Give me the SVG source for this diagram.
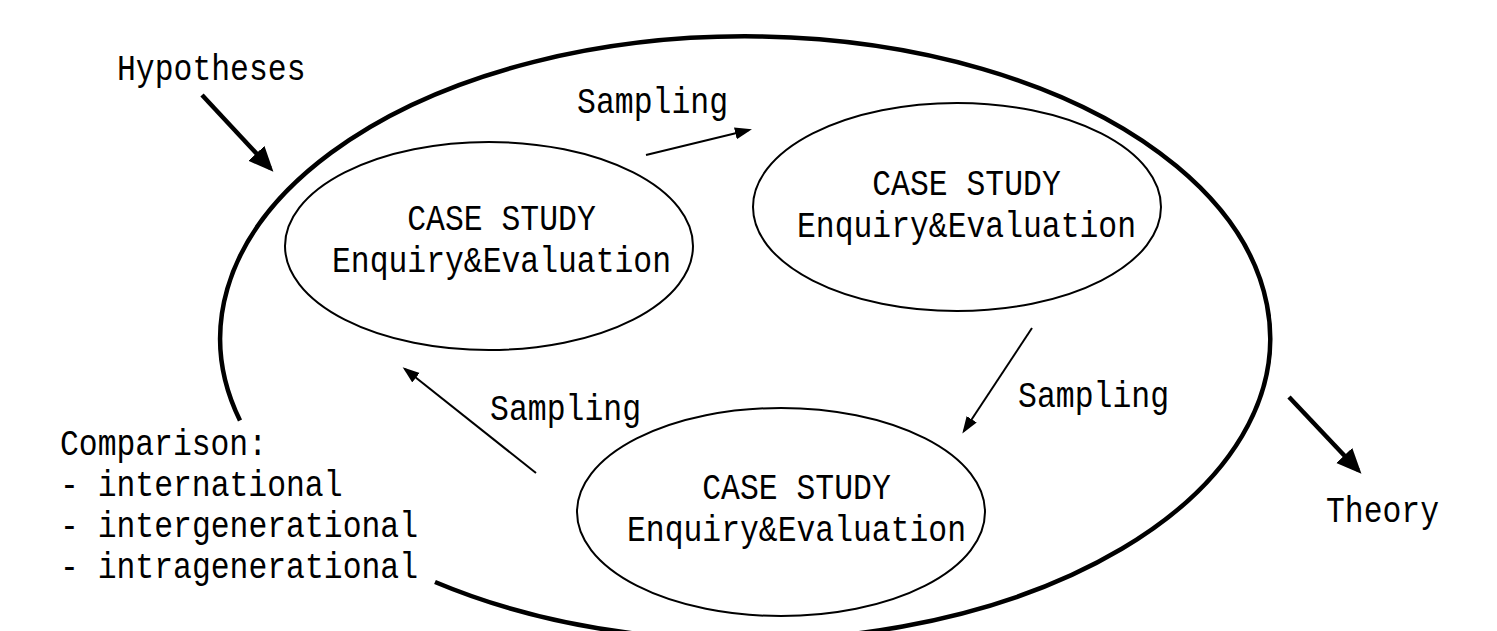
<svg xmlns="http://www.w3.org/2000/svg" width="1497" height="631" viewBox="0 0 1497 631">
<style>
text{font-family:"Liberation Mono","DejaVu Sans Mono",monospace;font-size:36px;fill:#000}
.c{text-anchor:middle}
.node{fill:none;stroke:#000;stroke-width:2}
.big{fill:none;stroke:#000;stroke-width:4.5}
.thin{stroke:#000;stroke-width:2;fill:none;marker-end:url(#ah)}
.thick{stroke:#000;stroke-width:4.5;fill:none;marker-end:url(#ahb)}
</style>
<defs>
<marker id="ah" markerUnits="userSpaceOnUse" markerWidth="18" markerHeight="14" refX="14" refY="6" orient="auto">
<path d="M0,0 L17,6 L0,12 z" fill="#000"/>
</marker>
<marker id="ahb" markerUnits="userSpaceOnUse" markerWidth="26" markerHeight="24" refX="20" refY="11" orient="auto">
<path d="M0,0 L25,11 L0,22 z" fill="#000"/>
</marker>
</defs>
<rect width="1497" height="631" fill="#fff"/>
<g id="frame">
<path class="big" d="M435,582 A525,302 0 1 0 240,420.5"/>
</g>
<g id="case1">
<ellipse class="node" cx="489" cy="246" rx="204" ry="104"/>
<text class="c" x="501.5" y="230" textLength="188.5" lengthAdjust="spacingAndGlyphs">CASE STUDY</text>
<text class="c" x="501.5" y="272" textLength="339" lengthAdjust="spacingAndGlyphs">Enquiry&amp;Evaluation</text>
</g>
<g id="case2">
<ellipse class="node" cx="957" cy="207" rx="204" ry="104"/>
<text class="c" x="966.5" y="195" textLength="188.5" lengthAdjust="spacingAndGlyphs">CASE STUDY</text>
<text class="c" x="966.5" y="237" textLength="339" lengthAdjust="spacingAndGlyphs">Enquiry&amp;Evaluation</text>
</g>
<g id="case3">
<ellipse class="node" cx="781" cy="512" rx="204" ry="104"/>
<text class="c" x="796.5" y="499" textLength="188.5" lengthAdjust="spacingAndGlyphs">CASE STUDY</text>
<text class="c" x="796.5" y="541" textLength="339" lengthAdjust="spacingAndGlyphs">Enquiry&amp;Evaluation</text>
</g>
<g id="hypotheses">
<text x="117" y="80" textLength="188.5" lengthAdjust="spacingAndGlyphs">Hypotheses</text>
</g>
<g id="theory">
<text x="1326" y="522" textLength="113" lengthAdjust="spacingAndGlyphs">Theory</text>
</g>
<g id="comparison">
<text x="60" y="455" textLength="207" lengthAdjust="spacingAndGlyphs">Comparison:</text>
<text x="60" y="496" textLength="282.5" lengthAdjust="spacingAndGlyphs">- international</text>
<text x="60" y="537" textLength="358" lengthAdjust="spacingAndGlyphs">- intergenerational</text>
<text x="60" y="578" textLength="358" lengthAdjust="spacingAndGlyphs">- intragenerational</text>
</g>
<g id="connectors">
<line class="thick" x1="202" y1="95" x2="270" y2="168"/>
<line class="thick" x1="1289" y1="397" x2="1358" y2="470"/>
<line class="thin" x1="646" y1="155" x2="749" y2="130"/>
<line class="thin" x1="1032" y1="328" x2="964" y2="431"/>
<line class="thin" x1="536" y1="473" x2="405" y2="369"/>
<text x="577" y="113" textLength="151" lengthAdjust="spacingAndGlyphs">Sampling</text>
<text x="1018" y="407" textLength="151" lengthAdjust="spacingAndGlyphs">Sampling</text>
<text x="490" y="420" textLength="151" lengthAdjust="spacingAndGlyphs">Sampling</text>
</g>
</svg>
